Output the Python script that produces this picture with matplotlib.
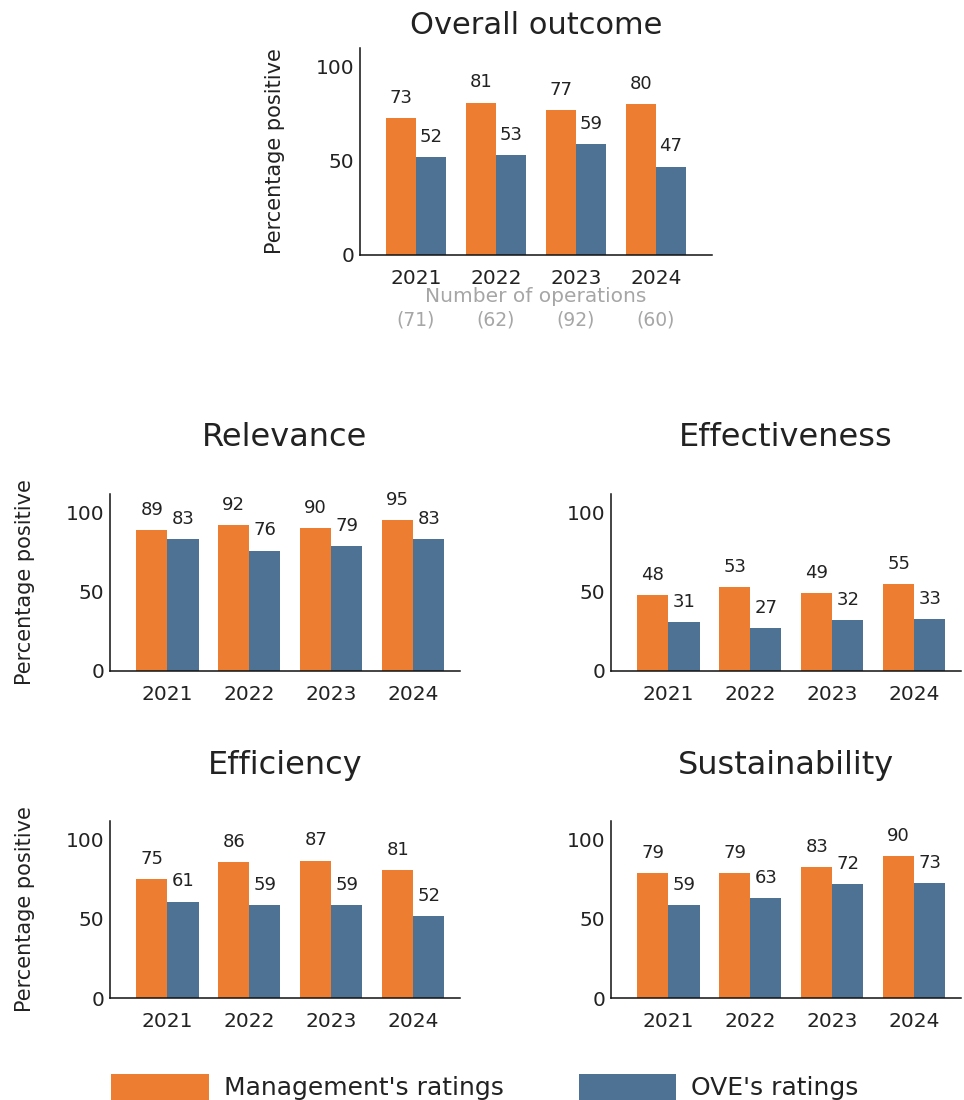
import matplotlib.pyplot as plt
import numpy as np
from matplotlib.patches import Patch

years = ["2021", "2022", "2023", "2024"]
operations = ["(71)", "(62)", "(92)", "(60)"]

overall_mgmt = [73, 81, 77, 80]
overall_ove = [52, 53, 59, 47]

relevance_mgmt = [89, 92, 90, 95]
relevance_ove = [83, 76, 79, 83]

effectiveness_mgmt = [48, 53, 49, 55]
effectiveness_ove = [31, 27, 32, 33]

efficiency_mgmt = [75, 86, 87, 81]
efficiency_ove = [61, 59, 59, 52]

sustainability_mgmt = [79, 79, 83, 90]
sustainability_ove = [59, 63, 72, 73]

ORANGE = "#ED7D31"
BLUE = "#4E7294"
TEXT = "#222222"
GREY = "#A6A6A6"

plt.rcParams["font.family"] = ["DejaVu Sans"]
plt.rcParams["text.color"] = TEXT

W, H = 964, 1100
fig = plt.figure(figsize=(W / 100, H / 100), dpi=100)


def px_rect(left, right, bottom, top):
    return [left / W, 1 - bottom / H, (right - left) / W, (bottom - top) / H]


def bar_panel(rect, mgmt, ove, title, width, xlim, ylim, title_pad,
              title_size=23, ylabel=True):
    ax = fig.add_axes(rect)
    x = np.arange(len(years))
    b1 = ax.bar(x - width / 2, mgmt, width, color=ORANGE)
    b2 = ax.bar(x + width / 2, ove, width, color=BLUE)
    for bars in (b1, b2):
        for b in bars:
            ax.annotate(f"{b.get_height():.0f}",
                        (b.get_x() + b.get_width() / 2, b.get_height()),
                        xytext=(0, 8), textcoords="offset points",
                        ha="center", va="bottom", fontsize=13, color=TEXT)
    ax.set_xlim(*xlim)
    ax.set_ylim(*ylim)
    ax.set_xticks(x)
    ax.set_xticklabels(years)
    ax.set_yticks([0, 50, 100])
    ax.tick_params(axis="both", length=0, labelsize=14.5, colors=TEXT)
    ax.tick_params(axis="x", pad=10)
    ax.tick_params(axis="y", pad=4)
    for s in ("top", "right"):
        ax.spines[s].set_visible(False)
    for s in ("left", "bottom"):
        ax.spines[s].set_linewidth(1.1)
        ax.spines[s].set_color("#111111")
    ax.set_title(title, fontsize=title_size, pad=title_pad, color=TEXT)
    if ylabel:
        ax.set_ylabel("Percentage positive", fontsize=15, color=TEXT, labelpad=22)
    return ax


# Top chart: overall outcome
ax0 = bar_panel(px_rect(360, 712, 255, 48), overall_mgmt, overall_ove,
                "Overall outcome", 0.375, (-0.7, 3.7), (0, 110), 10,
                title_size=22)
ax0.text(0.5, -0.2, "Number of operations", transform=ax0.transAxes,
         ha="center", va="center", fontsize=14.5, color=GREY)
for i, n in enumerate(operations):
    ax0.text(i, -0.315, n, transform=ax0.get_xaxis_transform(),
             ha="center", va="center", fontsize=13.5, color=GREY)

# Criteria panels
lims = dict(width=0.38, xlim=(-0.7, 3.57), ylim=(0, 112), title_pad=34)
bar_panel(px_rect(110, 460, 671, 493.5), relevance_mgmt, relevance_ove,
          "Relevance", **lims)
bar_panel(px_rect(611, 961, 671, 493.5), effectiveness_mgmt, effectiveness_ove,
          "Effectiveness", ylabel=False, **lims)
bar_panel(px_rect(110, 460, 998, 821), efficiency_mgmt, efficiency_ove,
          "Efficiency", **lims)
bar_panel(px_rect(611, 961, 998, 821), sustainability_mgmt, sustainability_ove,
          "Sustainability", ylabel=False, **lims)

handles = [Patch(facecolor=ORANGE), Patch(facecolor=BLUE)]
fig.legend(handles, ["Management's ratings", "OVE's ratings"],
           loc="center", bbox_to_anchor=(485 / W, 1 - 1087 / H),
           ncol=2, frameon=False, fontsize=18, borderpad=0,
           handlelength=3.9, handleheight=1.2, handletextpad=0.6,
           columnspacing=3.0)

fig.savefig("out.png", dpi=100)
